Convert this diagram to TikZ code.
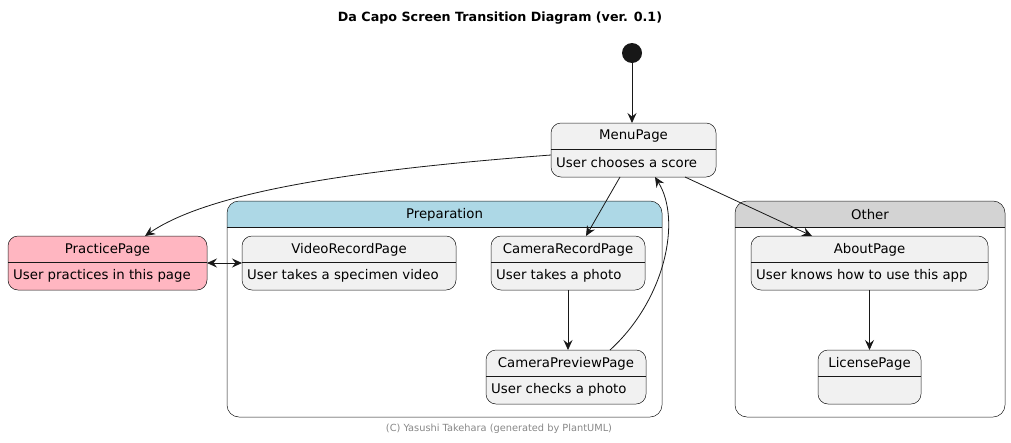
\documentclass[tikz,border=0pt]{standalone}
\usepackage{fontspec}
\setmainfont{DejaVu Sans}
\usetikzlibrary{arrows.meta}
\definecolor{bordc}{HTML}{181818}
\definecolor{statec}{HTML}{F1F1F1}
\definecolor{pinkc}{HTML}{FFB6C1}
\definecolor{bluec}{HTML}{ADD8E6}
\definecolor{grayc}{HTML}{D3D3D3}
\definecolor{footc}{HTML}{888888}
\newcommand\mkstate[8]{%
  \node[stbox, fill=#6, minimum width={(#4-#2)*1pt}, minimum height={(#5-#3)*1pt}, anchor=north west] (#1) at (#2,#3) {};
  \draw[divline] (#2,#3+26) -- (#4,#3+26);
  \node[txt] (#1-t) at ({(#2+#4)/2},#3+13.5) {#7};
  \node[txt, anchor=west] (#1-d) at (#2+5,#3+40) {#8};
}
\newcommand\mkcluster[7]{%
  \fill[#6] (#2,#3+26) [rounded corners=12pt] -- (#2,#3) -- (#4,#3) [sharp corners] -- (#4,#3+26) -- cycle;
  \node[clbox, minimum width={(#4-#2)*1pt}, minimum height={(#5-#3)*1pt}, anchor=north west] (#1) at (#2,#3) {};
  \draw[divline] (#2,#3+26) -- (#4,#3+26);
  \node[txt] (#1-t) at ({(#2+#4)/2},#3+13.5) {#7};
}
\begin{document}
\begin{tikzpicture}[x=1pt,y=-1pt,
  stbox/.style={draw=bordc, line width=0.5pt, rounded corners=10pt, inner sep=0pt, outer sep=0pt},
  clbox/.style={draw=bordc, line width=0.5pt, rounded corners=12pt, inner sep=0pt, outer sep=0pt},
  divline/.style={draw=bordc, line width=0.5pt},
  txt/.style={font=\fontsize{13.3}{15}\selectfont, inner sep=0pt, text=black},
  arr/.style={draw=bordc, line width=0.8pt, -{Stealth[length=10pt,width=9pt,inset=3.5pt]}},
  darr/.style={draw=bordc, line width=0.8pt, {Stealth[length=10pt,width=9pt,inset=3.5pt]}-{Stealth[length=10pt,width=9pt,inset=3.5pt]}}]
\useasboundingbox[fill=white] (0,0) rectangle (1011,442);
\node[font=\bfseries\fontsize{12.7}{15}\selectfont, inner sep=0pt] (title) at (500,18) {Da Capo Screen Transition Diagram (ver. 0.1)};
\node[circle, fill=bordc, minimum size=20pt, inner sep=0pt] (start) at (632,53) {};
\mkcluster{prep}{227}{201}{662}{417}{bluec}{Preparation}
\mkcluster{other}{735}{201}{1005}{417}{grayc}{Other}
\mkstate{menu}{551}{123}{716}{177}{statec}{MenuPage}{User chooses a score}
\mkstate{practice}{8}{236}{207}{290}{pinkc}{PracticePage}{User practices in this page}
\mkstate{video}{242}{236}{456}{290}{statec}{VideoRecordPage}{User takes a specimen video}
\mkstate{camrec}{491}{236}{645}{290}{statec}{CameraRecordPage}{User takes a photo}
\mkstate{campre}{486}{350}{646}{404}{statec}{CameraPreviewPage}{User checks a photo}
\mkstate{about}{751}{236}{988}{290}{statec}{AboutPage}{User knows how to use this app}
\mkstate{license}{818}{350}{921}{404}{statec}{LicensePage}{}
\node[font=\fontsize{9.8}{11}\selectfont, text=footc, inner sep=0pt] (foot) at (499,429) {(C) Yasushi Takehara (generated by PlantUML)};
\draw[arr] (start) -- (start |- menu.north);
\draw[arr] ([yshift=-5pt]menu.west) .. controls (380,168) and (215,188) .. ([xshift=37.5pt]practice.north);
\draw[arr] ([xshift=-13.5pt]menu.south) -- ([xshift=18pt]camrec.north);
\draw[arr] ([xshift=51.5pt]menu.south) -- ([xshift=-57.5pt]about.north);
\draw[arr] ([xshift=44pt]campre.north) .. controls (665,300) and (682,220) .. ([xshift=21.5pt]menu.south);
\draw[arr] (camrec.south) -- (camrec.south |- campre.north);
\draw[arr] (about.south) -- (license.north);
\draw[darr] (practice.east) -- (video.west);
\end{tikzpicture}
\end{document}
